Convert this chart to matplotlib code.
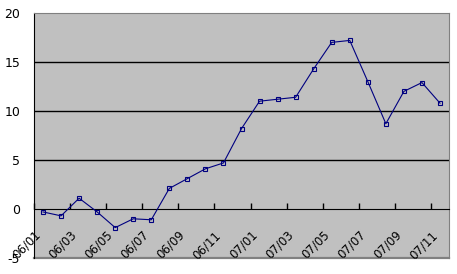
import matplotlib
matplotlib.use("Agg")
import matplotlib.pyplot as plt
import numpy as np

# monthly index, 2006/01 - 2007/11
months = ["06/01", "06/02", "06/03", "06/04", "06/05", "06/06", "06/07", "06/08",
          "06/09", "06/10", "06/11", "06/12", "07/01", "07/02", "07/03", "07/04",
          "07/05", "07/06", "07/07", "07/08", "07/09", "07/10", "07/11"]
values = [-0.3, -0.7, 1.1, -0.3, -1.9, -1.0, -1.1, 2.1, 3.1, 4.1, 4.7, 8.2,
          11.0, 11.2, 11.4, 14.3, 17.0, 17.2, 13.0, 8.7, 12.0, 12.9, 10.8]
yticks = [-5, 0, 5, 10, 15, 20]

fig = plt.figure(figsize=(4.57, 2.74), dpi=100)
ax = fig.add_axes([0.0744, 0.0584, 0.9081, 0.8942])
ax.set_facecolor("#c0c0c0")

x = np.arange(len(months))
ax.plot(x, values, color="#000080", lw=0.8, marker="s", markersize=3,
        markerfacecolor="none", markeredgecolor="#000080", markeredgewidth=0.8,
        zorder=3)

ax.set_xlim(-0.5, len(months) - 0.5)
ax.set_ylim(-5, 20)

# horizontal grid lines
for v in yticks[2:-1]:
    ax.axhline(v, color="black", lw=1, zorder=1)

# frame
for side in ["top", "right"]:
    ax.spines[side].set_color("#808080")
ax.spines["left"].set_color("black")
ax.spines["bottom"].set_position(("data", 0))
ax.spines["bottom"].set_color("black")
ax.axhline(-5, color="#808080", lw=1.6, clip_on=False, zorder=0)

# category labels every two months, anchored near the category boundary
tick_pos = x[::2] - 0.5
ax.set_xticks(tick_pos)
ax.set_xticklabels(months[::2], fontsize=8.5, rotation=45, ha="right",
                   va="top", rotation_mode="anchor")
ax.tick_params(axis="x", direction="in", length=4, width=1, pad=14)

ax.set_yticks(yticks)
ax.set_yticklabels([str(v) for v in yticks], fontsize=9)
ax.tick_params(axis="y", length=0, pad=10)

fig.savefig("out.png", dpi=100)
